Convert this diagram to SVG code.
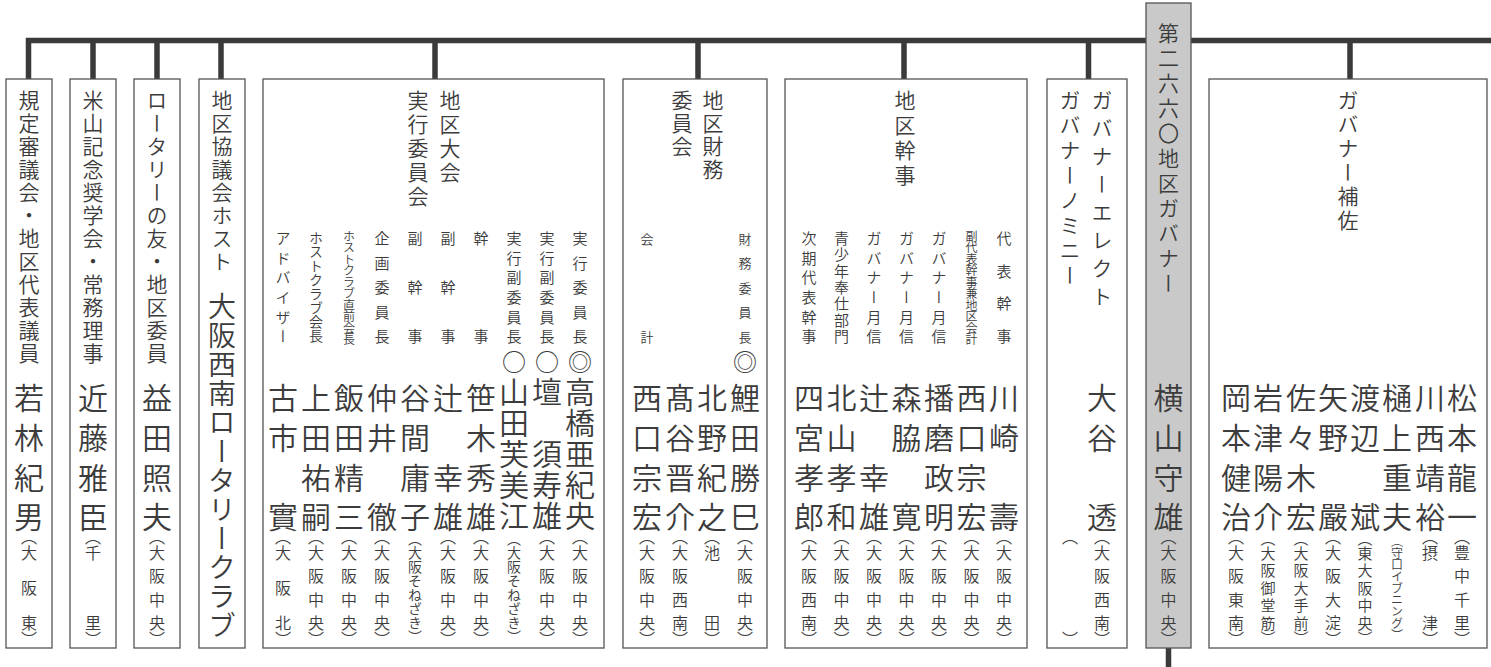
<svg xmlns="http://www.w3.org/2000/svg" width="1491" height="667" viewBox="0 0 1491 667">
<style>
.b{fill:#fff;stroke:#555;stroke-width:1.3}
.g{fill:#c9c9c9;stroke:#555;stroke-width:1.3}
.ln{fill:none;stroke:#3a3a3a;stroke-width:5.5}
text{font-family:"Noto Sans CJK JP","Noto Sans CJK SC",sans-serif;writing-mode:vertical-rl;fill:#3c3c3c;font-weight:350}
.t{font-size:21px}
.n{font-size:30px}
.k{font-size:28px}
.c{font-size:16px}
.c15{font-size:15px}
.c14{font-size:14px}
.c12{font-size:12px}
.r{font-size:15px}
.r14{font-size:14px}
.r13{font-size:13px}
.r12{font-size:12px}
.m{font-size:24px}
</style>
<rect width="1491" height="667" fill="#fff"/>
<g id="connectors">
<path class="ln" d="M28.5,79 V40.5 H1491"/>
<path class="ln" d="M93,40.5 V79 M157,40.5 V79 M221,40.5 V79 M435,40.5 V79 M698,40.5 V79 M904,40.5 V79 M1088.5,40.5 V79 M1350,40.5 V79 M1168.5,648 V667"/>
</g>
<g id="n1">
<rect class="b" x="6" y="79" width="46" height="569"/>
<text class="t" x="29" y="90 113 136 159 182 205 228 251 274 297 320 343">規定審議会・地区代表議員</text>
<text class="n" x="29" y="383 423 463 502">若林紀男</text>
<text class="c" x="29" y="529 545 580 615 631">（大阪東）</text>
</g>
<g id="n2">
<rect class="b" x="70" y="79" width="46" height="569"/>
<text class="t" x="93" y="90 113 136 159 182 205 228 251 274 297 320 343">米山記念奨学会・常務理事</text>
<text class="n" x="93" y="383 423 463 502">近藤雅臣</text>
<text class="c" x="93" y="529 545 615 631">（千里）</text>
</g>
<g id="n3">
<rect class="b" x="134" y="79" width="46" height="569"/>
<text class="t" x="157" y="90 113 136 159 182 205 228 251 274 297 320 343">ロータリーの友・地区委員</text>
<text class="n" x="157" y="383 423 463 502">益田照夫</text>
<text class="c" x="157" y="529 545 568.3 591.7 615 631">（大阪中央）</text>
</g>
<g id="n4">
<rect class="b" x="199" y="79" width="46" height="569"/>
<text class="t" x="222" y="90 113 136 159 182 205 228 251">地区協議会ホスト</text>
<text class="k" x="222" y="292 321 350 379 408 437 466 495 524 553 582 611">大阪西南ロータリークラブ</text>
</g>
<g id="n5">
<rect class="b" x="263" y="79" width="341" height="569"/>
<text class="t" x="450" y="90 114 138 162">地区大会</text>
<text class="t" x="418" y="90 114 138 162 186">実行委員会</text>
<text class="r" x="580" y="231 255.5 280 304.5 329">実行委員長</text>
<text class="r" x="547" y="231 250.6 270.2 289.8 309.4 329">実行副委員長</text>
<text class="r" x="514" y="231 250.6 270.2 289.8 309.4 329">実行副委員長</text>
<text class="r" x="481" y="231 329">幹事</text>
<text class="r" x="448" y="231 280 329">副幹事</text>
<text class="r" x="415" y="231 280 329">副幹事</text>
<text class="r" x="382" y="231 255.5 280 304.5 329">企画委員長</text>
<text class="r12" x="349" y="230 241.5 253 264.5 276 287.5 299 310.5 322 333.5">ホストクラブ直前会長</text>
<text class="r14" x="316" y="231 245 259 273 287 301 315 329">ホストクラブ会長</text>
<text class="r" x="283" y="231 250.6 270.2 289.8 309.4 329">アドバイザー</text>
<text class="m" x="580" y="350">◎</text>
<text class="m" x="547" y="350">○</text>
<text class="m" x="514" y="350">○</text>
<text class="n" x="580" y="377 408 439 470 501">高橋亜紀央</text>
<text class="n" x="547" y="377 439 470 501">壇須寿雄</text>
<text class="n" x="514" y="377 408 439 470 501">山田芙美江</text>
<text class="n" x="481" y="383 423 463 502">笹木秀雄</text>
<text class="n" x="448" y="383 463 502">辻幸雄</text>
<text class="n" x="415" y="383 423 463 502">谷間庸子</text>
<text class="n" x="382" y="383 423 502">仲井徹</text>
<text class="n" x="349" y="383 423 463 502">飯田精三</text>
<text class="n" x="316" y="383 423 463 502">上田祐嗣</text>
<text class="n" x="283" y="383 423 502">古市實</text>
<text class="c" x="580" y="529 545 568.3 591.7 615 631">（大阪中央）</text>
<text class="c" x="547" y="529 545 568.3 591.7 615 631">（大阪中央）</text>
<text class="c14" x="514" y="532 546 560 574 588 602 616 630">（大阪そねざき）</text>
<text class="c" x="481" y="529 545 568.3 591.7 615 631">（大阪中央）</text>
<text class="c" x="448" y="529 545 568.3 591.7 615 631">（大阪中央）</text>
<text class="c14" x="415" y="532 546 560 574 588 602 616 630">（大阪そねざき）</text>
<text class="c" x="382" y="529 545 568.3 591.7 615 631">（大阪中央）</text>
<text class="c" x="349" y="529 545 568.3 591.7 615 631">（大阪中央）</text>
<text class="c" x="316" y="529 545 568.3 591.7 615 631">（大阪中央）</text>
<text class="c" x="283" y="529 545 580 615 631">（大阪北）</text>
</g>
<g id="n6">
<rect class="b" x="623" y="79" width="144" height="569"/>
<text class="t" x="713" y="90 113 136 159">地区財務</text>
<text class="t" x="682" y="90 113 136">委員会</text>
<text class="r13" x="745" y="232.5 257 281.5 306 330.5">財務委員長</text>
<text class="r13" x="647" y="232.5 330.5">会計</text>
<text class="m" x="745" y="350">◎</text>
<text class="n" x="745" y="383 423 463 502">鯉田勝巳</text>
<text class="n" x="712" y="383 423 463 502">北野紀之</text>
<text class="n" x="680" y="383 423 463 502">髙谷晋介</text>
<text class="n" x="647" y="383 423 463 502">西口宗宏</text>
<text class="c" x="745" y="529 545 568.3 591.7 615 631">（大阪中央）</text>
<text class="c" x="712" y="529 545 615 631">（池田）</text>
<text class="c" x="680" y="529 545 568.3 591.7 615 631">（大阪西南）</text>
<text class="c" x="647" y="529 545 568.3 591.7 615 631">（大阪中央）</text>
</g>
<g id="n7">
<rect class="b" x="785" y="79" width="242" height="569"/>
<text class="t" x="905" y="90 115 140 165">地区幹事</text>
<text class="r" x="1004" y="231 263.7 296.3 329">代表幹事</text>
<text class="r12" x="971.5" y="230 241.5 253 264.5 276 287.5 299 310.5 322 333.5">副代表幹事兼地区会計</text>
<text class="r" x="939" y="231 250.6 270.2 289.8 309.4 329">ガバナー月信</text>
<text class="r" x="906.5" y="231 250.6 270.2 289.8 309.4 329">ガバナー月信</text>
<text class="r" x="874" y="231 250.6 270.2 289.8 309.4 329">ガバナー月信</text>
<text class="r" x="841.5" y="231 247.3 263.7 280 296.3 312.7 329">青少年奉仕部門</text>
<text class="r" x="809" y="231 250.6 270.2 289.8 309.4 329">次期代表幹事</text>
<text class="n" x="1004" y="383 423 502">川崎壽</text>
<text class="n" x="971.5" y="383 423 463 502">西口宗宏</text>
<text class="n" x="939" y="383 423 463 502">播磨政明</text>
<text class="n" x="906.5" y="383 423 502">森脇寛</text>
<text class="n" x="874" y="383 463 502">辻幸雄</text>
<text class="n" x="841.5" y="383 423 463 502">北山孝和</text>
<text class="n" x="809" y="383 423 463 502">四宮孝郎</text>
<text class="c" x="1004" y="529 545 568.3 591.7 615 631">（大阪中央）</text>
<text class="c" x="971.5" y="529 545 568.3 591.7 615 631">（大阪中央）</text>
<text class="c" x="939" y="529 545 568.3 591.7 615 631">（大阪中央）</text>
<text class="c" x="906.5" y="529 545 568.3 591.7 615 631">（大阪中央）</text>
<text class="c" x="874" y="529 545 568.3 591.7 615 631">（大阪中央）</text>
<text class="c" x="841.5" y="529 545 568.3 591.7 615 631">（大阪中央）</text>
<text class="c" x="809" y="529 545 568.3 591.7 615 631">（大阪西南）</text>
</g>
<g id="n8">
<rect class="b" x="1047" y="79" width="80" height="569"/>
<text class="t" x="1102" y="90 118 146 174 202 230 258 286">ガバナーエレクト</text>
<text class="t" x="1070" y="90 115 140 165 190 215 240 265">ガバナーノミニー</text>
<text class="n" x="1102" y="383 423 502">大谷透</text>
<text class="c" x="1102" y="529 545 568.3 591.7 615 631">（大阪西南）</text>
<text class="c" x="1070" y="529 631">（）</text>
</g>
<g id="n9">
<rect class="g" x="1146" y="3" width="45" height="645"/>
<text class="t" x="1168.5" y="22.5 47.5 72.5 97.5 122.5 147.5 172.5 197.5 222.5 247.5 272.5">第二六六〇地区ガバナー</text>
<text class="n" x="1168.5" y="383 423 463 502">横山守雄</text>
<text class="c" x="1168.5" y="529 545 568.3 591.7 615 631">（大阪中央）</text>
</g>
<g id="n10">
<rect class="b" x="1209" y="79" width="278" height="569"/>
<text class="t" x="1348" y="90 114 138 162 186 210">ガバナー補佐</text>
<text class="n" x="1236" y="383 423 463 502">岡本健治</text>
<text class="n" x="1268" y="383 423 463 502">岩津陽介</text>
<text class="n" x="1301" y="383 423 463 502">佐々木宏</text>
<text class="n" x="1333" y="383 423 502">矢野嚴</text>
<text class="n" x="1365" y="383 423 502">渡辺斌</text>
<text class="n" x="1397" y="383 423 463 502">樋上重夫</text>
<text class="n" x="1430" y="383 423 463 502">川西靖裕</text>
<text class="n" x="1462" y="383 423 463 502">松本龍一</text>
<text class="c" x="1236" y="529 545 568.3 591.7 615 631">（大阪東南）</text>
<text class="c15" x="1268" y="530.5 545.5 563 580.5 598 615.5 630.5">（大阪御堂筋）</text>
<text class="c15" x="1301" y="530.5 545.5 563 580.5 598 615.5 630.5">（大阪大手前）</text>
<text class="c" x="1333" y="529 545 568.3 591.7 615 631">（大阪大淀）</text>
<text class="c15" x="1365" y="530.5 545.5 563 580.5 598 615.5 630.5">（東大阪中央）</text>
<text class="c12" x="1397" y="535 547 558.7 570.3 582 593.7 605.3 617 629">（守口イブニング）</text>
<text class="c" x="1430" y="529 545 615 631">（摂津）</text>
<text class="c" x="1462" y="529 545 568.3 591.7 615 631">（豊中千里）</text>
</g>
</svg>
